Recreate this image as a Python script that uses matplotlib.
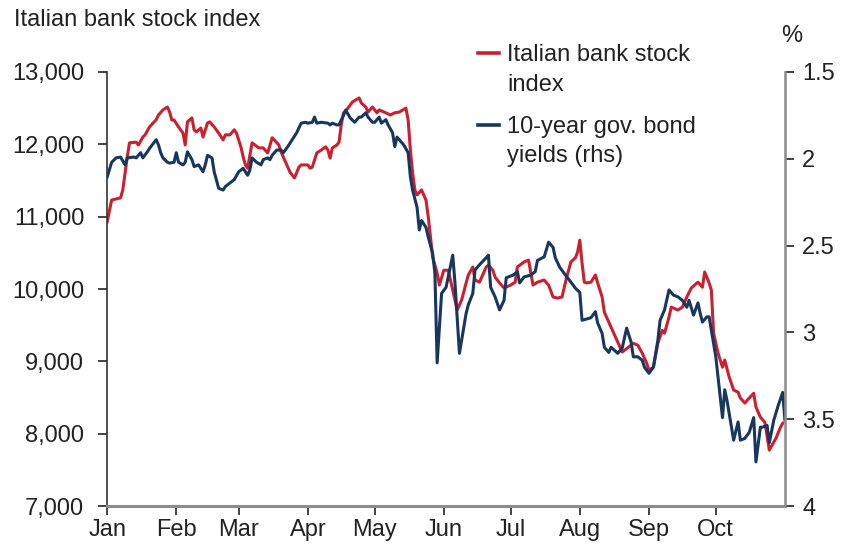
import numpy as np
import pandas as pd
import matplotlib
matplotlib.use("Agg")
import matplotlib.pyplot as plt
import matplotlib.dates as mdates
from matplotlib.lines import Line2D
from matplotlib.ticker import FuncFormatter, FormatStrFormatter

plt.rcParams['font.family'] = ['Liberation Sans', 'DejaVu Sans']

# days after 1 Jan 2018, index level
bank_days = [0, 2, 6, 7, 9, 10, 13, 14, 16, 17, 19, 22, 23, 25, 27, 28, 29, 30, 32, 34,
             35, 36, 38, 39, 40, 42, 43, 45, 46, 48, 50, 52, 53, 55, 57, 58, 60, 61, 62, 63,
             65, 68, 70, 72, 74, 75, 77, 78, 80, 82, 84, 86, 87, 90, 91, 92, 94, 96, 98, 99,
             100, 101, 103, 104, 105, 106, 108, 110, 113, 114, 116, 117, 119, 121, 122, 125, 127, 129, 131, 134,
             135, 136, 137, 138, 139, 141, 143, 144, 145, 146, 148, 149, 151, 153, 155, 157, 159, 161, 162, 164,
             165, 167, 170, 171, 173, 174, 176, 178, 181, 183, 184, 187, 189, 191, 193, 196, 198, 200, 202, 204,
             206, 208, 210, 211, 212, 213, 214, 215, 217, 219, 220, 222, 223, 226, 228, 230, 231, 234, 236, 238,
             240, 242, 243, 245, 247, 249, 250, 252, 253, 256, 258, 260, 262, 265, 267, 268, 270, 271, 272, 274,
             276, 277, 279, 281, 283, 284, 286, 288, 290, 291, 293, 295, 297, 299, 300, 302, 303]
bank_index = [10930, 11230, 11260, 11370, 11825, 12020, 12030, 11990, 12100, 12130, 12240, 12340, 12405, 12475, 12515, 12445, 12335, 12335, 12240, 12155,
              11990, 12310, 12365, 12200, 12170, 12225, 12100, 12295, 12310, 12240, 12155, 12060, 12130, 12130, 12200, 12155, 11960, 11825, 11715, 11670,
              12020, 11950, 11950, 11880, 12090, 12060, 11990, 11895, 11755, 11615, 11535, 11685, 11715, 11715, 11670, 11685, 11880, 11920, 11965, 11920,
              11810, 11950, 11990, 12030, 12270, 12435, 12500, 12585, 12640, 12570, 12515, 12445, 12515, 12435, 12475, 12435, 12405, 12435, 12445, 12500,
              12335, 11920, 11605, 11370, 11300, 11370, 11230, 11000, 10720, 10440, 10220, 10055, 10260, 10260, 9985, 9710, 9850, 10085, 10195, 10305,
              10125, 10095, 10305, 10330, 10260, 10165, 10085, 10015, 10055, 10095, 10305, 10375, 10400, 10055, 10095, 10125, 10055, 9890, 9875, 9890,
              10150, 10375, 10430, 10510, 10675, 10360, 10095, 10085, 10095, 10195, 10085, 9890, 9680, 9475, 9335, 9200, 9130, 9200, 9250, 9225,
              9115, 8975, 8880, 8920, 9250, 9430, 9390, 9610, 9750, 9710, 9750, 9890, 10015, 10095, 10025, 10235, 10085, 9985, 9390, 9115,
              8920, 9020, 8785, 8605, 8575, 8495, 8425, 8495, 8560, 8370, 8230, 8160, 7775, 7885, 7940, 8090, 8145]

# days after 1 Jan 2018, 10-year yield in %
bond_days = [0, 2, 4, 6, 8, 9, 12, 13, 15, 16, 18, 19, 22, 23, 24, 25, 27, 28, 30, 31,
             32, 34, 35, 36, 38, 39, 41, 43, 44, 45, 47, 48, 50, 52, 53, 55, 57, 59, 61, 63,
             64, 65, 67, 69, 70, 72, 73, 74, 76, 78, 79, 81, 82, 83, 85, 87, 89, 90, 92, 93,
             94, 96, 99, 100, 101, 103, 104, 106, 107, 109, 111, 113, 114, 116, 117, 119, 120, 122, 123, 125,
             126, 128, 129, 130, 131, 133, 135, 136, 137, 139, 140, 141, 143, 144, 146, 147, 148, 150, 152, 155,
             156, 158, 161, 162, 164, 165, 167, 170, 171, 172, 174, 176, 178, 179, 182, 184, 185, 187, 190, 192,
             193, 196, 198, 200, 201, 203, 205, 208, 210, 212, 213, 217, 219, 220, 222, 223, 225, 226, 229, 231,
             233, 235, 236, 238, 240, 241, 243, 245, 247, 248, 250, 252, 254, 256, 258, 260, 261, 263, 265, 266,
             267, 269, 270, 273, 274, 276, 277, 278, 281, 283, 284, 286, 288, 290, 291, 293, 294, 296, 297, 299,
             301, 303, 304]
bond_yield = [2.105, 2.02, 1.995, 1.99, 2.035, 1.995, 1.99, 1.995, 1.965, 1.995, 1.96, 1.94, 1.89, 1.92, 1.965, 1.995, 2.02, 2.025, 2.02, 1.965,
              2.02, 2.035, 2.02, 1.96, 2.005, 2.045, 2.035, 2.075, 2.035, 1.98, 1.995, 2.075, 2.17, 2.18, 2.16, 2.14, 2.12, 2.075, 2.055, 2.095,
              2.065, 1.995, 2.02, 2.035, 2.005, 1.995, 2.005, 1.98, 1.95, 1.95, 1.965, 1.93, 1.91, 1.89, 1.85, 1.795, 1.79, 1.795, 1.79, 1.76,
              1.795, 1.79, 1.795, 1.805, 1.795, 1.805, 1.805, 1.75, 1.72, 1.765, 1.79, 1.76, 1.76, 1.735, 1.76, 1.79, 1.79, 1.76, 1.795, 1.775,
              1.805, 1.85, 1.93, 1.875, 1.89, 1.92, 1.965, 2.105, 2.18, 2.28, 2.41, 2.355, 2.395, 2.45, 2.545, 2.66, 3.175, 2.775, 2.74, 2.555,
              2.715, 3.12, 2.89, 2.84, 2.775, 2.64, 2.61, 2.57, 2.555, 2.74, 2.795, 2.87, 2.815, 2.685, 2.67, 2.65, 2.715, 2.68, 2.67, 2.65,
              2.585, 2.565, 2.48, 2.51, 2.57, 2.625, 2.66, 2.71, 2.745, 2.77, 2.93, 2.915, 2.88, 2.945, 3.005, 3.085, 3.115, 3.085, 3.12, 3.09,
              2.975, 3.055, 3.14, 3.14, 3.16, 3.2, 3.235, 3.2, 3.045, 2.93, 2.87, 2.755, 2.785, 2.795, 2.815, 2.855, 2.815, 2.9, 2.83, 2.89,
              2.94, 2.91, 2.91, 3.14, 3.255, 3.49, 3.33, 3.39, 3.62, 3.515, 3.62, 3.61, 3.575, 3.49, 3.745, 3.545, 3.545, 3.535, 3.635, 3.505,
              3.42, 3.345, 3.505]

start = pd.Timestamp("2018-01-01")
bank_dates = start + pd.to_timedelta(bank_days, unit="D")
bond_dates = start + pd.to_timedelta(bond_days, unit="D")

RED = "#CC1F2F"
NAVY = "#17375E"
TXT = "#222222"
FS = 17

fig = plt.figure(figsize=(8.44, 5.49), dpi=100)
ax = fig.add_axes([0.127, 0.078, 0.803, 0.791])
ax2 = ax.twinx()

ax.plot(bank_dates, bank_index, color=RED, lw=2.2)
ax2.plot(bond_dates, bond_yield, color=NAVY, lw=2.2)

ax.set_xlim(start, start + pd.Timedelta(days=304))
ax.set_ylim(7000, 13000)
ax.set_yticks(np.arange(7000, 13001, 1000))
ax.yaxis.set_major_formatter(FuncFormatter(lambda v, p: f"{v:,.0f}"))

# yields on an inverted right scale
ax2.set_ylim(4, 1.5)
ax2.set_yticks([1.5, 2, 2.5, 3, 3.5, 4])
ax2.yaxis.set_major_formatter(FormatStrFormatter('%g'))

ax.xaxis.set_major_locator(mdates.MonthLocator(bymonth=range(1, 11)))
ax.xaxis.set_major_formatter(mdates.DateFormatter('%b'))

for a in (ax, ax2):
    a.spines['top'].set_visible(False)
    a.tick_params(labelsize=FS, colors=TXT, length=6.5, width=1.2)
ax.tick_params(axis='y', pad=10)
ax.tick_params(axis='x', pad=3)
ax2.tick_params(axis='y', pad=6)
ax.spines['left'].set_color('#333333')
ax.spines['left'].set_linewidth(1.2)
ax.spines['bottom'].set_color('#8c8c8c')
ax.spines['bottom'].set_linewidth(2.2)
ax2.spines['right'].set_color('#8c8c8c')
ax2.spines['right'].set_linewidth(1.8)
ax2.spines['left'].set_visible(False)
ax2.spines['bottom'].set_visible(False)

fig.text(0.017, 0.963, "Italian bank stock index", fontsize=FS, va='center', ha='left', color=TXT)
fig.text(0.938, 0.935, "%", fontsize=FS, va='center', ha='center', color=TXT)

# legend: short line key next to the first line of each label
for y_key, y_txt, col, label in [(0.9035, 0.920, RED, "Italian bank stock\nindex"),
                                  (0.772, 0.789, NAVY, "10-year gov. bond\nyields (rhs)")]:
    fig.add_artist(Line2D([0.566, 0.591], [y_key, y_key], color=col, lw=2.6,
                          transform=fig.transFigure))
    fig.text(0.601, y_txt, label, fontsize=FS, va='top', ha='left', color=TXT,
             linespacing=1.45)

fig.savefig("out.png", dpi=100)
